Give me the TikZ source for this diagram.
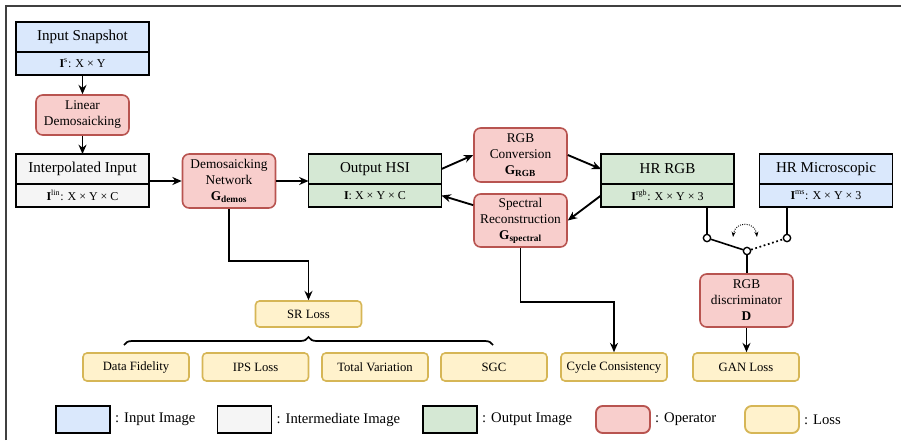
\documentclass[tikz,border=0pt]{standalone}
\usepackage{fontspec}
\setmainfont{Liberation Serif}
\usetikzlibrary{arrows.meta, positioning, decorations.pathreplacing}

\definecolor{inblue}{HTML}{DAE8FC}
\definecolor{midgray}{HTML}{F5F5F5}
\definecolor{outgreen}{HTML}{D5E8D4}
\definecolor{opfill}{HTML}{F8CECC}
\definecolor{opline}{HTML}{B85450}
\definecolor{lossfill}{HTML}{FFF2CC}
\definecolor{lossline}{HTML}{D6B656}

\newcommand{\gsub}[1]{\textbf{G}\textsubscript{\textbf{#1}}}

\begin{document}
\begin{tikzpicture}[x=0.75pt, y=-0.75pt,
        imghead/.style={draw, line width=1.4pt, outer sep=0pt, inner sep=0pt,
            minimum width=99.75pt, minimum height=22.5pt, font=\fontsize{11.3}{13}\selectfont},
        imgsub/.style={draw, line width=1.4pt, outer sep=0pt, inner sep=0pt,
            minimum width=99.75pt, minimum height=17.25pt, font=\fontsize{9}{10}\selectfont},
        opbox/.style={draw=opline, fill=opfill, line width=1.2pt, rounded corners=5pt, align=center,
            inner sep=0pt, minimum width=69.75pt, font=\fontsize{10}{12}\selectfont},
        lossbox/.style={draw=lossline, fill=lossfill, line width=1.2pt, rounded corners=3pt, inner sep=0pt,
            minimum width=79.5pt, minimum height=21pt, font=\fontsize{9.5}{11}\selectfont},
        legbox/.style={draw, line width=1.4pt, minimum width=40.5pt, minimum height=20.25pt, inner sep=0pt},
        legtext/.style={font=\fontsize{11}{13}\selectfont, inner sep=2pt},
        swdot/.style={draw, circle, fill=white, line width=1pt, minimum size=5.5pt, inner sep=0pt},
        arrow/.style={-{Stealth[length=7pt, width=6pt]}, line width=1.4pt}
    ]
    \useasboundingbox (0,0) rectangle (901,440);
    \draw[line width=1.2pt, black!75] (6,440) -- (6,6) -- (901,6);

    % ---- Left column: snapshot and interpolation ----
    \node[imghead, fill=inblue] (snap) at (82.5,37) {Input Snapshot};
    \node[imgsub, fill=inblue, below=0pt of snap] (snapS) {\textbf{I}\textsuperscript{s}: X × Y};
    \node[opbox, minimum height=30pt] (lindem) at (82.5,115) {Linear\\Demosaicking};
    \node[imghead, fill=midgray] (interp) at (82.5,169) {Interpolated Input};
    \node[imgsub, fill=midgray, below=0pt of interp] (interpS) {\textbf{I}\textsuperscript{lin}: X × Y × C};
    \draw[arrow] (snapS) -- (lindem);
    \draw[arrow] (lindem) -- (interp);

    % ---- Middle: network and output ----
    \node[opbox, minimum height=40.5pt] (demos) at (229,181) {Demosaicking\\Network\\\gsub{demos}};
    \node[imghead, fill=outgreen] (hsi) at (375,169) {Output HSI};
    \node[imgsub, fill=outgreen, below=0pt of hsi] (hsiS) {\textbf{I}: X × Y × C};
    \draw[arrow] (demos.west -| interp.east) -- (demos.west);
    \draw[arrow] (demos.east) -- (demos.east -| hsi.west);

    % ---- Cycle between HSI and RGB ----
    \node[opbox, minimum height=40.5pt] (rgbconv) at (520.5,155) {RGB\\Conversion\\\gsub{RGB}};
    \node[opbox, minimum height=39.75pt] (specrec) at (520.5,220.5) {Spectral\\Reconstruction\\\gsub{spectral}};
    \node[imghead, fill=outgreen] (hrrgb) at (667.5,169) {HR RGB};
    \node[imgsub, fill=outgreen, below=0pt of hrrgb] (hrrgbS) {\textbf{I}\textsuperscript{rgb}: X × Y × 3};
    \node[imghead, fill=inblue] (hrms) at (826,169) {HR Microscopic};
    \node[imgsub, fill=inblue, below=0pt of hrms] (hrmsS) {\textbf{I}\textsuperscript{ms}: X × Y × 3};
    \draw[arrow] (hsi.east) -- (rgbconv.west);
    \draw[arrow] (rgbconv.east) -- (hrrgb.west);
    \draw[arrow] (hrrgbS.west) -- (specrec.east);
    \draw[arrow] (specrec.162) -- (hsiS.east);

    % ---- Switch and discriminator ----
    \node[swdot] (swL) at (707,238) {};
    \node[swdot] (swM) at (747,251) {};
    \node[swdot] (swR) at (787,238) {};
    \coordinate (arcL) at (733,237);
    \coordinate (arcR) at (757,237);
    \draw[line width=1.2pt] (swL |- hrrgbS.south) -- (swL);
    \draw[line width=1.2pt] (swR |- hrmsS.south) -- (swR);
    \draw[line width=1.2pt] (swL) -- (swM);
    \draw[line width=1.3pt, dotted] (swM) -- (swR);
    \draw[line width=0.7pt, densely dotted, {Stealth[length=4pt]}-{Stealth[length=4pt]}]
        (arcL) .. controls (735,221) and (755,221) .. (arcR);
    \node[opbox, minimum height=39.75pt] (disc) at (746.5,300.5) {RGB\\discriminator\\\textbf{D}};
    \draw[line width=1.2pt] (swM) -- (swM |- disc.north);

    % ---- Losses ----
    \node[lossbox, minimum height=19.5pt] (srloss) at (308.5,314) {SR Loss};
    \node[lossbox] (datafid) at (136,367) {Data Fidelity};
    \node[lossbox] (ipsloss) at (255.5,367) {IPS Loss};
    \node[lossbox] (tvloss) at (375,367) {Total Variation};
    \node[lossbox] (sgc) at (494,367) {SGC};
    \node[lossbox] (cycloss) at (614,367) {Cycle Consistency};
    \node[lossbox] (ganloss) at (746,367) {GAN Loss};
    \coordinate (brL) at (124,345);
    \coordinate (brR) at (493,345);
    \draw[arrow] (demos.south) -- ++(0,52) -| (srloss.north);
    \draw[arrow] (specrec.south) -- ++(0,54) -| (cycloss.north);
    \draw[arrow] (disc.south) -- (disc.south |- ganloss.north);
    \draw[line width=1.3pt, decorate, decoration={brace, amplitude=6pt}] (brL) -- (brR);

    % ---- Legend ----
    \node[legbox, fill=inblue] (legIn) at (83,419.5) {};
    \node[legtext, right=1pt of legIn] {: Input Image};
    \node[legbox, fill=midgray] (legMid) at (244.5,419.5) {};
    \node[legtext, right=1pt of legMid] {: Intermediate Image};
    \node[legbox, fill=outgreen] (legOut) at (450,419.5) {};
    \node[legtext, right=1pt of legOut] {: Output Image};
    \node[legbox, draw=opline, fill=opfill, rounded corners=5pt] (legOp) at (623,419.5) {};
    \node[legtext, right=1pt of legOp] {: Operator};
    \node[legbox, draw=lossline, fill=lossfill, rounded corners=5pt] (legLoss) at (772,419.5) {};
    \node[legtext, right=1pt of legLoss] {: Loss};
\end{tikzpicture}
\end{document}
